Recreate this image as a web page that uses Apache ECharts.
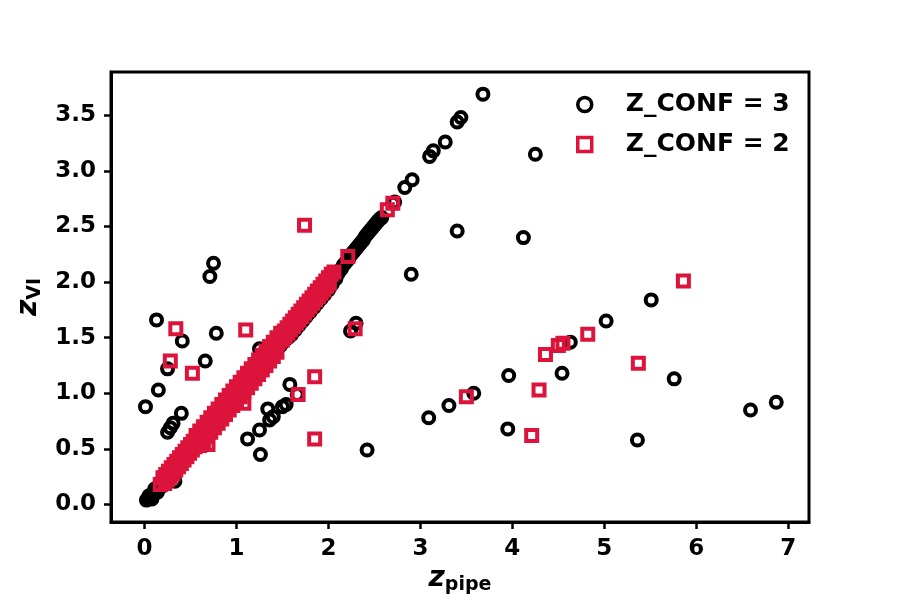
<!DOCTYPE html>
<html>
<head>
<meta charset="utf-8">
<script src="https://cdn.jsdelivr.net/npm/echarts@6/dist/echarts.min.js"></script>
<style>
  html, body { margin: 0; padding: 0; background: #fff; }
  #chart { width: 900px; height: 600px; }
</style>
</head>
<body>
<div id="chart"></div>
<script>
// tick values
const xTicks = [0, 1, 2, 3, 4, 5, 6, 7];
const yTicks = [0, 0.5, 1, 1.5, 2, 2.5, 3, 3.5];

// Z_CONF = 3, points along z_VI ~ z_pipe
const conf3Diag = [
    [0.02,0.04],[0.04,0.05],[0.06,0.07],[0.08,0.09],[0.1,0.11],[0.12,0.12],[0.14,0.15],[0.16,0.17],
    [0.18,0.18],[0.2,0.2],[0.22,0.22],[0.24,0.23],[0.26,0.25],[0.28,0.27],[0.3,0.29],[0.32,0.31],
    [0.34,0.33],[0.36,0.35],[0.38,0.37],[0.4,0.39],
    [0.05,0.08],[0.08,0.05],[0.11,0.14],[0.14,0.11],[0.17,0.2],[0.2,0.17],[0.23,0.26],[0.26,0.22],
    [0.44,0.4],[0.48,0.44],[0.52,0.48],[0.56,0.51],[0.6,0.55],[0.64,0.59],[0.68,0.63],[0.72,0.67],
    [0.76,0.71],[0.8,0.75],[0.84,0.79],[0.88,0.83],[0.92,0.87],[0.96,0.91],[1.0,0.95],[1.04,0.99],
    [1.08,1.03],[1.12,1.07],[1.16,1.11],[1.2,1.15],[1.24,1.19],[1.25,1.4],[1.28,1.23],[1.32,1.27],
    [1.36,1.31],[1.4,1.35],[1.44,1.39],[1.48,1.43],[1.52,1.47],[1.56,1.5],
    [1.6,1.53],[1.64,1.57],[1.68,1.61],[1.72,1.65],[1.76,1.69],[1.8,1.73],[1.84,1.77],[1.88,1.81],
    [1.92,1.85],[1.96,1.89],[2.0,1.93],[2.04,1.98],[2.08,2.03],
    [2.1,2.07],[2.12,2.1],[2.14,2.12],[2.16,2.15],[2.18,2.17],[2.2,2.19],[2.22,2.21],[2.24,2.24],
    [2.26,2.26],[2.28,2.28],[2.3,2.3],[2.32,2.32],[2.34,2.34],[2.36,2.36],[2.38,2.38],[2.4,2.41],
    [2.42,2.43],[2.44,2.45],[2.46,2.47],[2.48,2.49],[2.5,2.51],[2.52,2.53],[2.54,2.55],[2.56,2.57],
    [2.58,2.58],
    [2.7,2.71],[2.72,2.72],[2.83,2.85],[2.91,2.92],[3.1,3.13],[3.14,3.18],[3.27,3.26],
    [3.4,3.44],[3.44,3.48],[3.68,3.69]
];

// Z_CONF = 3, scattered points
const conf3Off = [
    [4.25,3.15],[3.4,2.46],[4.12,2.4],[2.9,2.07],[5.51,1.84],[5.02,1.65],[4.63,1.46],[3.96,1.16],
    [4.54,1.18],[5.76,1.13],[3.58,1.0],[3.31,0.89],[3.09,0.78],[6.59,0.85],[6.87,0.92],[3.95,0.68],
    [5.36,0.58],[0.71,2.05],[0.75,2.17],[0.13,1.66],[0.41,1.47],[0.78,1.54],[2.3,1.63],[2.24,1.56],
    [0.25,1.22],[0.66,1.29],[0.15,1.03],[0.01,0.88],[0.4,0.82],[0.31,0.73],[0.28,0.69],[0.25,0.65],
    [1.58,1.08],[1.66,0.99],[1.54,0.9],[1.5,0.88],[1.34,0.86],[1.4,0.79],[1.36,0.76],[1.25,0.67],
    [1.12,0.59],[1.26,0.45],[2.42,0.49],[0.33,0.21]
];

// Z_CONF = 2, points along z_VI ~ z_pipe
const conf2Diag = [
    [0.2,0.24],[0.23,0.27],[0.26,0.3],[0.29,0.33],[0.32,0.36],[0.35,0.39],[0.38,0.42],[0.41,0.45],
    [0.44,0.48],[0.47,0.51],[0.5,0.54],[0.53,0.57],
    [0.22,0.19],[0.25,0.22],[0.28,0.25],[0.31,0.28],[0.34,0.31],[0.37,0.34],[0.4,0.37],[0.43,0.4],
    [0.46,0.43],[0.49,0.46],[0.52,0.49],[0.55,0.52],
    [0.56,0.62],[0.6,0.66],[0.64,0.7],[0.68,0.74],[0.72,0.78],[0.76,0.82],[0.8,0.86],[0.84,0.9],
    [0.88,0.94],[0.92,0.98],[0.96,1.02],[1.0,1.06],[1.04,1.1],[1.08,1.14],[1.12,1.18],[1.16,1.22],
    [1.2,1.26],[1.24,1.3],[1.28,1.34],[1.32,1.38],[1.36,1.42],[1.4,1.46],[1.44,1.5],[1.48,1.54],
    [0.58,0.58],[0.62,0.62],[0.66,0.66],[0.7,0.7],[0.74,0.74],[0.78,0.78],[0.82,0.82],[0.86,0.86],
    [0.9,0.9],[0.94,0.94],[0.98,0.98],[1.02,1.02],[1.06,1.06],[1.1,1.1],[1.14,1.14],[1.18,1.18],
    [1.22,1.22],[1.26,1.26],[1.3,1.3],[1.34,1.34],[1.38,1.38],[1.42,1.42],[1.46,1.46],[1.5,1.5],
    [0.6,0.53],[0.64,0.57],[0.68,0.61],[0.72,0.65],[0.76,0.69],[0.8,0.73],[0.84,0.77],[0.88,0.81],
    [0.92,0.85],[0.96,0.89],[1.0,0.93],[1.04,0.97],[1.08,1.01],[1.12,1.05],[1.16,1.09],[1.2,1.13],
    [1.24,1.17],[1.28,1.21],[1.32,1.25],[1.36,1.29],[1.4,1.33],[1.44,1.37],
    [1.52,1.56],[1.55,1.59],[1.58,1.62],[1.61,1.65],[1.64,1.68],[1.67,1.71],[1.7,1.74],[1.73,1.77],
    [1.76,1.8],[1.79,1.83],[1.82,1.86],[1.85,1.89],[1.88,1.92],[1.91,1.95],[1.94,1.98],[1.97,2.01],
    [2.0,2.04],[2.03,2.07],[2.06,2.09],
    [1.5,1.48],[1.53,1.51],[1.56,1.54],[1.59,1.57],[1.62,1.6],[1.65,1.63],[1.68,1.66],[1.71,1.69],
    [1.74,1.72],[1.77,1.75],[1.8,1.78],[1.83,1.81],[1.86,1.84],[1.89,1.87],[1.92,1.9],[1.95,1.93],
    [1.98,1.96],[2.01,1.99],
    [2.21,2.23],[2.64,2.65],[2.7,2.71]
];

// Z_CONF = 2, scattered points
const conf2Off = [
    [0.17,0.18],[1.74,2.51],[0.34,1.58],[1.1,1.57],[2.29,1.58],[0.28,1.29],[0.52,1.18],[1.85,1.15],
    [1.67,0.99],[1.08,0.91],[0.69,0.54],[1.85,0.59],[3.5,0.97],[4.29,1.03],[4.21,0.62],[4.36,1.35],
    [4.5,1.43],[4.55,1.45],[4.82,1.53],[5.37,1.27],[5.86,2.01]
];

const seriesNames = ['Z_CONF = 3', 'Z_CONF = 2'];

const chart = echarts.init(document.getElementById('chart'), null, { renderer: 'canvas' });

const font = 'DejaVu Sans';
const tickLabel = { color: '#000', fontFamily: font, fontWeight: 'bold', fontSize: 23, margin: 15 };
const labelRich = {
    z: { fontFamily: font, fontWeight: 'bold', fontStyle: 'italic', fontSize: 28, lineHeight: 32, color: '#000' },
    s: { fontFamily: font, fontWeight: 'bold', fontSize: 19, lineHeight: 14, verticalAlign: 'bottom', color: '#000' }
};

chart.setOption({
    animation: false,
    backgroundColor: '#fff',
    grid: {
        left: 111, right: 91, top: 72, bottom: 75,
        show: true, borderColor: '#000', borderWidth: 3, backgroundColor: 'transparent'
    },
    legend: {
        data: seriesNames,
        orient: 'vertical',
        left: 571, top: 86,
        itemWidth: 14, itemHeight: 14, itemGap: 13,
        itemStyle: { borderWidth: 3.5 },
        textStyle: { color: '#000', fontFamily: font, fontWeight: 'bold', fontSize: 25, lineHeight: 27, padding: [0, 0, 0, 29] }
    },
    xAxis: {
        type: 'value', min: -0.365, max: 7.226,
        name: '{z|z}{s|pipe}', nameLocation: 'middle', nameGap: 36,
        nameTextStyle: { rich: labelRich },
        axisLine: { show: true, onZero: false, lineStyle: { color: '#000', width: 3 } },
        axisTick: { show: true, inside: false, length: 7, customValues: xTicks, lineStyle: { color: '#000', width: 2.5 } },
        axisLabel: Object.assign({ customValues: xTicks, formatter: v => String(v) }, tickLabel),
        splitLine: { show: false }
    },
    yAxis: {
        type: 'value', min: -0.158, max: 3.889,
        name: '{z|z}{s|VI}', nameLocation: 'middle', nameGap: 62, nameRotate: 90,
        nameTextStyle: { rich: labelRich },
        axisLine: { show: true, onZero: false, lineStyle: { color: '#000', width: 3 } },
        axisTick: { show: true, inside: false, length: 7, customValues: yTicks, lineStyle: { color: '#000', width: 2.5 } },
        axisLabel: Object.assign({ customValues: yTicks, formatter: v => v.toFixed(1) }, tickLabel),
        splitLine: { show: false }
    },
    series: [
        {
            name: seriesNames[0],
            type: 'scatter',
            symbol: 'circle',
            symbolSize: 11,
            data: conf3Diag.concat(conf3Off),
            itemStyle: { color: 'rgba(0,0,0,0)', borderColor: '#000', borderWidth: 4, opacity: 1 },
            emphasis: { disabled: true },
            z: 2
        },
        {
            name: seriesNames[1],
            type: 'scatter',
            symbol: 'rect',
            symbolSize: 11,
            data: conf2Diag.concat(conf2Off),
            itemStyle: { color: 'rgba(0,0,0,0)', borderColor: '#dc143c', borderWidth: 4, opacity: 1 },
            emphasis: { disabled: true },
            z: 3
        }
    ]
});
</script>
</body>
</html>
